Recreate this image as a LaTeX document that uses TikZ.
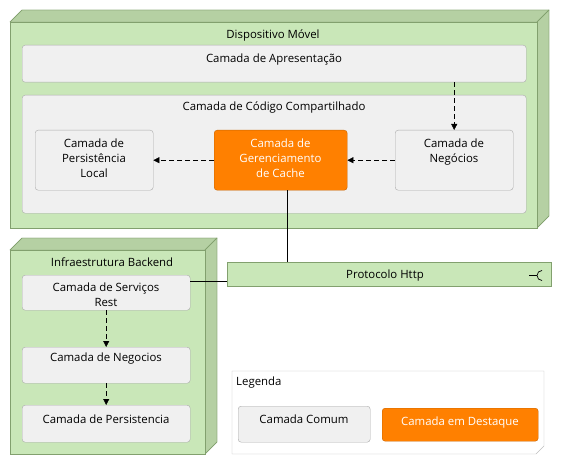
\documentclass[tikz,border=0pt]{standalone}
\usepackage{fontspec}
\setmainfont{Open Sans}
\usetikzlibrary{arrows.meta}
\definecolor{nodegreen}{RGB}{201,231,184}
\definecolor{nodegreendark}{RGB}{181,208,163}
\definecolor{nodeborder}{RGB}{130,160,110}
\definecolor{boxgray}{RGB}{240,240,240}
\definecolor{boxborder}{RGB}{170,170,170}
\definecolor{legborder}{RGB}{190,190,190}
\definecolor{orangefill}{RGB}{255,128,0}
\definecolor{orangeborder}{RGB}{200,100,0}
\begin{document}
\begin{tikzpicture}[x=1pt,y=-1pt,
  every node/.style={font=\fontsize{11.4}{15}\selectfont, inner sep=0pt},
  front/.style={draw=nodeborder, fill=nodegreen},
  side/.style={draw=nodeborder, fill=nodegreendark},
  layer/.style={draw=boxborder, fill=boxgray, rounded corners=3pt, anchor=north west},
  hilite/.style={draw=orangeborder, fill=orangefill, rounded corners=3pt, anchor=north west},
  txt/.style={align=center, anchor=north, text=black, text height=9pt},
  lines2/.style={text height=24pt},
  lines3/.style={text height=39pt},
  wtxt/.style={align=center, anchor=north, text=white, text height=9pt},
  dep/.style={dash pattern=on 5pt off 3pt, -{Triangle[length=6pt,width=6pt]}},
  conn/.style={draw=black}
]
\useasboundingbox (0,0) rectangle (561,465);
% Dispositivo Movel
\fill[side] (10,22) -- (22,10) -- (549,10) -- (537,22) -- cycle;
\fill[side] (537,22) -- (549,10) -- (549,216) -- (537,228) -- cycle;
\draw[draw=nodeborder] (10,22) -- (22,10) -- (549,10) -- (549,216) -- (537,228);
\draw[draw=nodeborder] (537,22) -- (549,10);
\node[front, anchor=north west, minimum width=527pt, minimum height=206pt] (dev) at (10,22) {};
\node[txt] (devt) at (273,29) {Dispositivo Móvel};
% Apresentacao
\node[layer, minimum width=504pt, minimum height=37pt] (apr) at (22,45) {};
\node[txt] (aprt) at (274,53) {Camada de Apresentação};
% Codigo compartilhado
\node[layer, minimum width=504pt, minimum height=118pt] (cod) at (22,95) {};
\node[txt] (codt) at (274,101) {Camada de Código Compartilhado};
\node[layer, minimum width=118pt, minimum height=60pt] (pers) at (35,130) {};
\node[txt, lines3] (perst) at (94,138) {Camada de\\Persistência\\Local};
\node[hilite, minimum width=133pt, minimum height=60pt] (cache) at (214,130) {};
\node[wtxt, lines3] (cachet) at (280.5,138) {Camada de\\Gerenciamento\\de Cache};
\node[layer, minimum width=118pt, minimum height=60pt] (neg) at (395,130) {};
\node[txt, lines2] (negt) at (454,138) {Camada de\\Negócios};
% Infraestrutura
\fill[side] (10,250) -- (22,238) -- (217,238) -- (205,250) -- cycle;
\fill[side] (205,250) -- (217,238) -- (217,442) -- (205,454) -- cycle;
\draw[draw=nodeborder] (10,250) -- (22,238) -- (217,238) -- (217,442) -- (205,454);
\draw[draw=nodeborder] (205,250) -- (217,238);
\node[front, anchor=north west, minimum width=195pt, minimum height=204pt] (back) at (10,250) {};
\node[txt] (backt) at (112,257) {Infraestrutura Backend};
\node[layer, minimum width=168pt, minimum height=35pt] (rest) at (22,275) {};
\node[txt, lines2] (restt) at (106,282) {Camada de Serviços\\Rest};
\node[layer, minimum width=168pt, minimum height=36pt] (bneg) at (22,347) {};
\node[txt] (bnegt) at (106,352) {Camada de Negocios};
\node[layer, minimum width=168pt, minimum height=37pt] (bper) at (22,405) {};
\node[txt] (bpert) at (106,414) {Camada de Persistencia};
% Protocolo
\node[front, anchor=north west, minimum width=324pt, minimum height=24pt] (http) at (227,262) {};
\node[txt] (httpt) at (385,269) {Protocolo Http};
\draw[black, line width=0.7pt] (529,275.5) -- (537,275.5);
\draw[black, line width=0.7pt] (542,270.5) arc[start angle=270, end angle=90, radius=5];
% Legenda
\draw[draw=legborder, fill=white] (232,371) -- (544,371) -- (544,446) -- (536,454) -- (232,454) -- cycle;
\node[anchor=north west, text=black, text height=9pt] (legt) at (236,376) {Legenda};
\node[layer, minimum width=132pt, minimum height=36pt] (lc) at (238,406) {};
\node[txt] (lct) at (304,414) {Camada Comum};
\node[hilite, minimum width=156pt, minimum height=33pt] (lh) at (382,408) {};
\node[wtxt] (lht) at (460,416) {Camada em Destaque};
% Connectors
\draw[dep] (apr.south -| neg.north) coordinate (a1) -- (a1 |- neg.north);
\draw[dep] (neg.west) -- (cache.east);
\draw[dep] (cache.west) -- (pers.east);
\draw[conn] (cache.south -| 287,0) coordinate (c1) -- (c1 |- http.north);
\draw[conn] (rest.east |- 0,281) coordinate (r1) -- (r1 -| http.west);
\draw[dep] (rest.south) -- (bneg.north);
\draw[dep] (bneg.south) -- (bper.north);
\end{tikzpicture}
\end{document}
